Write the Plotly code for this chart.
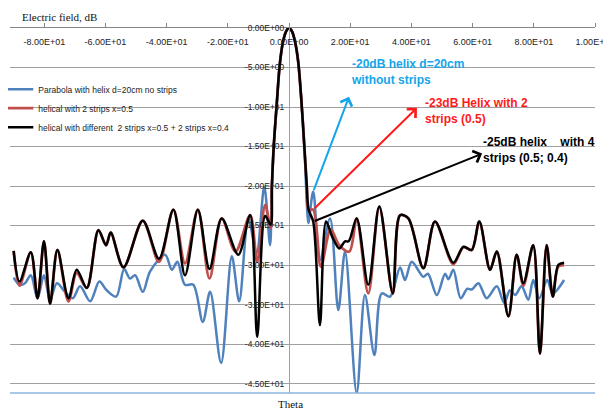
import plotly.graph_objects as go

# ---------------- data ----------------
theta_blue = [-90, -88.1, -86.3, -84.4, -82.2, -80.1, -78.1, -75.9, -73.2, -70.7, -68.3, -65.0,
              -62.0, -59.6, -56.5, -53.9, -52.0, -50.3, -47.8, -45.4, -40.5, -38.3, -36.5, -34.0,
              -31.3, -28.2, -25.8, -22.2, -18.7, -16.3, -13.3, -10.6, -8.1, -6.2, -5.6, -5, -4, -3,
              -2, -1, 0, 1, 2, 3, 4, 5, 5.8, 6.3, 7.9, 10.1, 13.4, 16.1, 18.3, 22.1, 24.8, 27.9,
              30.3, 33.0, 36.3, 37.9, 40.1, 43.9, 45.4, 48.3, 51.0, 52.1, 53.7, 56.1, 58.3, 59.7,
              61.9, 64.6, 67.9, 70.3, 72.2, 73.9, 76.0, 78.2, 79.8, 81.8, 84.4, 86.2, 89.9]
e_blue = [-31.6, -32.5, -32.3, -31.3, -34.2, -31.3, -34.4, -32.3, -33.4, -34.2, -32.7, -34.6,
          -32.1, -33.2, -34.0, -30.5, -31.7, -31.3, -33.4, -30.8, -28.7, -30.6, -29.6, -32.5,
          -32.5, -37.2, -33.4, -42.4, -28.9, -34.6, -24.1, -28.5, -20.1, -27.5, -20.0, -15, -9.5, -4.5,
          -1.8, -0.45, 0, -0.45, -1.8, -4.3, -9.0, -15, -22.0, -24.7, -20.7, -29.4, -24.1, -35.7, -28.3, -46.2, -33.8, -41.4,
          -33.6, -34.0, -30.3, -31.9, -29.6, -31.5, -31.1, -33.8, -31.1, -31.8, -30.6, -34.2, -33.0, -33.1,
          -32.3, -34.2, -32.7, -34.8, -33.2, -33.8, -32.7, -34.4, -31.9, -34.2, -31.9, -33.6, -31.9]

theta_red = [-90, -88.1, -84.4, -82.2, -80.1, -78.1, -75.7, -72.1, -69.4, -66.1, -62.3, -59.8,
             -58.3, -54.1, -47.8, -42.5, -37.8, -34.0, -29.8, -26.0, -22.0, -17.5, -12.7, -10.4,
             -7.8, -6.0, -5.6, -5, -4, -3, -2, -1, 0, 1, 2, 3, 4, 5, 5.8, 6.4, 7.9, 10.4, 13.6,
             16.4, 19.7, 22.1, 25.9, 29.5, 33.9, 36.3, 39.0, 43.9, 47.7, 53.7, 57.0, 59.7, 62.2,
             65.7, 67.9, 71.7, 74.4, 76.6, 79.8, 82.0, 84.2, 86.2, 88.0, 89.9]
e_red = [-28.2, -32.6, -28.4, -34.2, -27.0, -34.9, -28.1, -34.6, -31.0, -32.9, -25.6, -27.5,
         -25.9, -30.3, -24.4, -29.6, -23.0, -29.8, -23.0, -31.7, -24.1, -28.3, -23.7, -29.6,
         -22.4, -25.3, -20.0, -15, -9.5, -4.5, -1.8, -0.45, 0, -0.45, -1.8, -4.3, -9.0, -15, -20.0, -23.0, -23.0, -30.2, -25.5,
         -27.5, -28.3, -24.1, -33.6, -22.6, -33.6, -23.7, -24.1, -30.4, -24.5, -29.9, -27.7, -28.1, -24.5,
         -30.6, -28.3, -36.5, -28.7, -32.6, -27.5, -41.2, -27.5, -34.0, -30.2, -30.0]

theta_black = [-90, -88.1, -84.4, -82.2, -80.1, -78.1, -75.7, -72.1, -69.4, -66.1, -62.3, -59.8,
               -58.3, -54.1, -47.8, -42.5, -37.8, -34.0, -29.8, -26.0, -22.0, -16.6, -12.7, -10.4,
               -7.8, -6.0, -5.6, -5, -4, -3, -2, -1, 0, 1, 2, 3, 4, 5, 5.8, 6.4, 7.9, 10.1, 12.1,
               14.2, 16.4, 18.3, 19.5, 22.1, 25.9, 29.5, 33.9, 36.3, 39.0, 43.9, 47.7, 53.7, 57.0,
               59.7, 62.2, 65.7, 67.9, 71.7, 74.4, 76.6, 79.8, 82.0, 84.2, 86.2, 88.0, 89.9]
e_black = [-28.2, -32.1, -28.4, -34.2, -27.0, -34.9, -28.1, -34.2, -30.6, -32.9, -25.6, -27.5,
           -25.9, -30.3, -24.4, -29.2, -23.0, -31.3, -23.0, -30.5, -24.1, -28.7, -23.7, -39.1,
           -23.8, -24.9, -20.0, -15, -9.5, -4.5, -1.8, -0.45, 0, -0.45, -1.8, -4.3, -9.0, -15, -20.0, -23.0, -24.5, -37.6, -24.5,
           -26.5, -27.9, -27.0, -27.0, -24.1, -32.5, -22.6, -33.6, -23.7, -24.1, -30.4, -24.5, -29.7, -27.7,
           -28.1, -24.5, -30.6, -28.3, -36.5, -28.7, -32.3, -27.5, -41.2, -27.5, -34.0, -30.0, -29.7]

series_names = ["Parabola with helix d=20cm no strips",
                "helical with 2 strips x=0.5",
                "helical with different  2 strips x=0.5 + 2 strips x=0.4"]

x_ticks = [-80, -60, -40, -20, 0, 20, 40, 60, 80, 100]
y_ticks = [0, -5, -10, -15, -20, -25, -30, -35, -40, -45]
x_ticktext = [f"{v:.2E}" for v in x_ticks]
y_ticktext = [f"{v:.2E}" for v in y_ticks]

# arrows: (tail theta, tail dB) -> (head theta, head dB)
arrow_tails = [(7.9, -20.7), (7.9, -23.0), (7.9, -24.5)]
arrow_heads = [(19.6, -8.7), (41.8, -10.1), (63.1, -15.9)]
arrow_texts = ["-20dB helix d=20cm<br>without strips",
               "-23dB Helix with 2<br>strips (0.5)",
               "-25dB helix\u00a0\u00a0\u00a0\u00a0with 4<br>strips (0.5; 0.4)"]
text_pos = [(19.6, -3.4), (43.8, -8.4), (62.7, -13.3)]
arrow_colors = ["#14a5ea", "#ff1a1a", "#000000"]

X_RANGE = [-91.2, 100]
Y_RANGE = [-46.2, 0]

# ---------------- figure ----------------
fig = go.Figure()
fig.add_trace(go.Scatter(x=theta_blue, y=e_blue, mode="lines", name=series_names[0],
                         line=dict(color="#4f81bd", width=2.5, shape="spline", smoothing=0.9)))
fig.add_trace(go.Scatter(x=theta_red, y=e_red, mode="lines", name=series_names[1],
                         line=dict(color="#c0504d", width=2.8, shape="spline", smoothing=0.9)))
fig.add_trace(go.Scatter(x=theta_black, y=e_black, mode="lines", name=series_names[2],
                         line=dict(color="#000000", width=2.5, shape="spline", smoothing=0.9)))

tick_font = dict(family="Liberation Sans, Arial, sans-serif", size=8.5, color="#222")
xtick_font = dict(family="Liberation Sans, Arial, sans-serif", size=9, color="#222")

y_pos = (0 - X_RANGE[0]) / (X_RANGE[1] - X_RANGE[0])

# the page body has an 8px default margin, so the figure is 8px smaller than the window
fig.update_layout(
    width=603, height=400,
    margin=dict(l=2, r=16, t=20, b=15, autoexpand=False),
    paper_bgcolor="white", plot_bgcolor="white",
    showlegend=True,
    legend=dict(x=-0.02, y=0.872, xanchor="left", yanchor="top",
                bgcolor="rgba(0,0,0,0)", font=dict(family="Liberation Sans, Arial, sans-serif", size=8.5, color="#222"),
                itemwidth=30, tracegroupgap=0),
    xaxis=dict(range=X_RANGE, side="top", tickvals=x_ticks, ticktext=x_ticktext,
               ticks="outside", ticklen=4, tickcolor="#868686", showgrid=False, zeroline=False,
               showline=True, linecolor="#868686", linewidth=1, ticklabelposition="inside",
               ticklabeloverflow="allow", ticklabelstandoff=10, tickfont=xtick_font),
    yaxis=dict(range=Y_RANGE, tickvals=y_ticks, ticktext=y_ticktext, anchor="free", position=y_pos,
               showgrid=True, gridcolor="#a0a0a0", gridwidth=1, zeroline=False,
               showline=True, linecolor="#a0a0a0", linewidth=1, ticks="", ticklabelstandoff=3,
               tickfont=tick_font),
)

for (tx, ty), (hx, hy), col in zip(arrow_tails, arrow_heads, arrow_colors):
    fig.add_annotation(x=hx, y=hy, ax=tx, ay=ty, xref="x", yref="y", axref="x", ayref="y",
                       text="", showarrow=True, arrowhead=4, arrowsize=1.2, arrowwidth=2,
                       arrowcolor=col)

for (px, py), txt, col in zip(text_pos, arrow_texts, arrow_colors):
    fig.add_annotation(x=px, y=py, xref="x", yref="y", text="<b>" + txt + "</b>", showarrow=False,
                       xanchor="left", yanchor="top", align="left",
                       font=dict(family="Liberation Sans, Arial, sans-serif", size=12, color=col))

fig.add_annotation(x=0.017, y=1.03, xref="paper", yref="paper", text="Electric field, dB",
                   showarrow=False, xanchor="left", yanchor="middle",
                   font=dict(family="Liberation Serif, Times New Roman, serif", size=11, color="#111"))
fig.add_annotation(x=0.479, y=-0.03, xref="paper", yref="paper", text="Theta",
                   showarrow=False, xanchor="center", yanchor="middle",
                   font=dict(family="Liberation Serif, Times New Roman, serif", size=11, color="#111"))

fig.add_shape(type="line", xref="paper", yref="paper", x0=0, x1=1, y0=0, y1=0,
              line=dict(color="#8eb4e3", width=1.5))

fig.write_html("out.html")
